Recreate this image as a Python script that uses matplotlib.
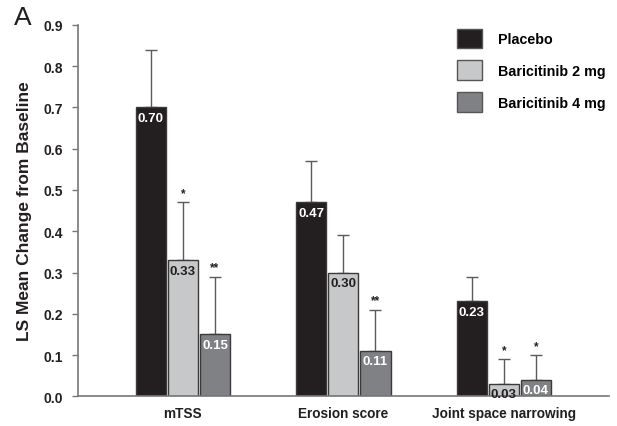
import matplotlib
matplotlib.use("Agg")
import matplotlib.pyplot as plt
from matplotlib.patches import Patch
import numpy as np

plt.rcParams['font.family'] = ['Liberation Sans', 'DejaVu Sans']

categories = ["mTSS", "Erosion score", "Joint space narrowing"]
series_names = ["Placebo", "Baricitinib 2 mg", "Baricitinib 4 mg"]
means = {
    "Placebo": [0.70, 0.47, 0.23],
    "Baricitinib 2 mg": [0.33, 0.30, 0.03],
    "Baricitinib 4 mg": [0.15, 0.11, 0.04],
}
upper = {
    "Placebo": [0.84, 0.57, 0.29],
    "Baricitinib 2 mg": [0.47, 0.39, 0.09],
    "Baricitinib 4 mg": [0.29, 0.21, 0.10],
}
stars = {
    "Placebo": ["", "", ""],
    "Baricitinib 2 mg": ["*", "", "*"],
    "Baricitinib 4 mg": ["**", "**", "*"],
}
yticks = [0.0, 0.1, 0.2, 0.3, 0.4, 0.5, 0.6, 0.7, 0.8, 0.9]

fills = ["#231f20", "#c7c8ca", "#808184"]
label_colors = ["white", "#231f20", "white"]

fig = plt.figure(figsize=(6.17, 4.27), dpi=100)
ax = fig.add_axes([0.1264, 0.0696, 0.8606, 0.8696])

x = np.arange(len(categories))
width = 0.187
step = 0.2
for i, name in enumerate(series_names):
    xs = x + (i - 1) * step
    vals = np.array(means[name])
    tops = np.array(upper[name])
    ax.errorbar(xs, vals, yerr=[np.zeros_like(vals), tops - vals], fmt='none',
                ecolor="#5a5a5a", elinewidth=1.0, capsize=4.2, capthick=1.0, zorder=1)
    ax.bar(xs, vals, width=width, color=fills[i], edgecolor="#3a3a3a",
           linewidth=1.0, zorder=2, label=name)
    for xi, v, t, s in zip(xs, vals, tops, stars[name]):
        ax.text(xi, v - 0.011, f"{v:.2f}", ha='center', va='top', fontsize=9.5,
                fontweight='bold', color=label_colors[i], zorder=3)
        if s:
            ax.text(xi, t + 0.008, s, ha='center', va='bottom', fontsize=8.5,
                    fontweight='bold', color="#231f20")

ax.set_xlim(-0.654, 2.655)
ax.set_ylim(0, 0.9)
ax.set_yticks(yticks)
ax.set_yticklabels([f"{t:.1f}" for t in yticks], fontsize=10, fontweight='bold',
                   color="#231f20")
ax.set_xticks(x)
ax.set_xticklabels(categories, fontsize=9.8, fontweight='bold', color="#231f20")
ax.tick_params(axis='x', length=0, pad=7)
ax.tick_params(axis='y', length=4, width=1, color="#777777", pad=7)
for side in ("top", "right"):
    ax.spines[side].set_visible(False)
for side in ("left", "bottom"):
    ax.spines[side].set_color("#777777")
    ax.spines[side].set_linewidth(1.2)
ax.set_ylabel("LS Mean Change from Baseline", fontsize=12.5, fontweight='bold',
              color="#231f20", labelpad=8)

handles = [Patch(facecolor=fills[i], edgecolor="#555555", linewidth=1.0)
           for i in range(3)]
ax.legend(handles, series_names, loc='upper left', bbox_to_anchor=(0.69, 1.025),
          frameon=False, prop={'weight': 'bold', 'size': 10.3},
          handlelength=1.75, handleheight=1.75, handletextpad=1.1, labelspacing=0.85)

fig.text(0.022, 0.958, "A", fontsize=19, color="#231f20", ha='left', va='center')

fig.savefig("out.png", dpi=100)
